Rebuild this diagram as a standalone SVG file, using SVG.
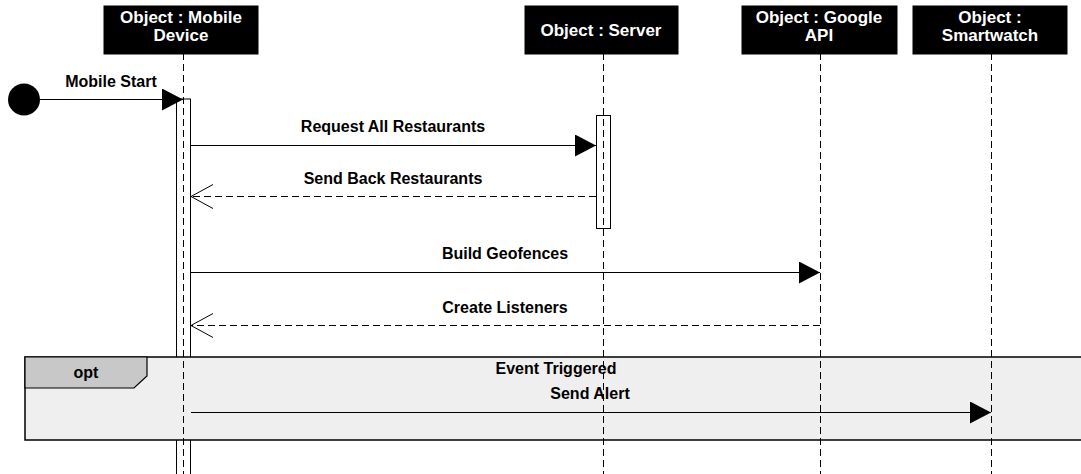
<svg xmlns="http://www.w3.org/2000/svg" width="1081" height="474" viewBox="0 0 1081 474">
  <defs>
    <marker id="solidHead" markerWidth="22" markerHeight="22" refX="21" refY="11" orient="auto" markerUnits="userSpaceOnUse">
      <path d="M0,0 L21,11 L0,22 Z" fill="#000"/>
    </marker>
    <marker id="openHead" markerWidth="24" markerHeight="26" refX="22" refY="13" orient="auto" markerUnits="userSpaceOnUse">
      <path d="M0,1 L22,13 L0,25" fill="none" stroke="#000" stroke-width="1"/>
    </marker>
  </defs>
  <style>
    .head { fill: #000; stroke: #000; stroke-width: 1; }
    .headText { font-family: "Liberation Sans", Arial, sans-serif; font-weight: bold; font-size: 17px; fill: #fff; text-anchor: middle; }
    .label { font-family: "Liberation Sans", Arial, sans-serif; font-weight: bold; font-size: 16px; fill: #000; text-anchor: middle; }
    .lifeline { stroke: #000; stroke-width: 1; stroke-dasharray: 7 4; fill: none; }
    .act { fill: #fff; stroke: #000; stroke-width: 1; }
    .msg { stroke: #000; stroke-width: 1.2; fill: none; }
    .reply { stroke: #000; stroke-width: 1.2; stroke-dasharray: 7 4; fill: none; }
  </style>

  <rect width="1081" height="474" fill="#fff"/>

  <!-- activation bars -->
  <rect class="act" x="176.5" y="99" width="14" height="380"/>
  <rect class="act" x="596.5" y="115.5" width="14" height="113"/>

  <!-- opt combined fragment -->
  <g id="opt-frame">
    <rect x="25" y="357" width="1070" height="83" fill="#efefef" stroke="#000" stroke-width="1.5"/>
    <path d="M25,357 L147,357 L147,376 L134,388 L25,388 Z" fill="#c8c8c8" stroke="#000" stroke-width="1.2"/>
    <text class="label" x="86" y="378">opt</text>
  </g>

  <!-- lifelines -->
  <g id="lifelines">
    <line class="lifeline" x1="183.5" y1="53" x2="183.5" y2="474"/>
    <line class="lifeline" x1="603.5" y1="53" x2="603.5" y2="474"/>
    <line class="lifeline" x1="820.5" y1="53" x2="820.5" y2="474"/>
    <line class="lifeline" x1="991.5" y1="53" x2="991.5" y2="474"/>
  </g>

  <!-- participants -->
  <g id="mobile-device">
    <rect class="head" x="104" y="6" width="154" height="48"/>
    <text class="headText" x="181" y="23">Object : Mobile</text>
    <text class="headText" x="181" y="41">Device</text>
  </g>
  <g id="server">
    <rect class="head" x="525" y="6" width="153" height="48"/>
    <text class="headText" x="601" y="36">Object : Server</text>
  </g>
  <g id="google-api">
    <rect class="head" x="742" y="6" width="155" height="48"/>
    <text class="headText" x="819" y="23">Object : Google</text>
    <text class="headText" x="819" y="41">API</text>
  </g>
  <g id="smartwatch">
    <rect class="head" x="913" y="6" width="154" height="48"/>
    <text class="headText" x="990" y="23">Object :</text>
    <text class="headText" x="990" y="41">Smartwatch</text>
  </g>

  <!-- start point -->
  <g id="start">
    <circle cx="24" cy="99.5" r="16" fill="#000"/>
  </g>

  <!-- messages -->
  <g id="connectors">
    <line class="msg" x1="40" y1="99.5" x2="183" y2="99.5" marker-end="url(#solidHead)"/>
    <text class="label" x="111" y="87">Mobile Start</text>

    <line class="msg" x1="191" y1="145.5" x2="596" y2="145.5" marker-end="url(#solidHead)"/>
    <text class="label" x="393" y="132">Request All Restaurants</text>

    <line class="reply" x1="596" y1="196.5" x2="191" y2="196.5" marker-end="url(#openHead)"/>
    <text class="label" x="393" y="184">Send Back Restaurants</text>

    <line class="msg" x1="191" y1="272.5" x2="820" y2="272.5" marker-end="url(#solidHead)"/>
    <text class="label" x="505" y="259">Build Geofences</text>

    <line class="reply" x1="820" y1="325.5" x2="191" y2="325.5" marker-end="url(#openHead)"/>
    <text class="label" x="505" y="313">Create Listeners</text>

    <text class="label" x="556" y="374">Event Triggered</text>
    <line class="msg" x1="191" y1="412.5" x2="991" y2="412.5" marker-end="url(#solidHead)"/>
    <text class="label" x="590" y="399">Send Alert</text>
  </g>
</svg>
